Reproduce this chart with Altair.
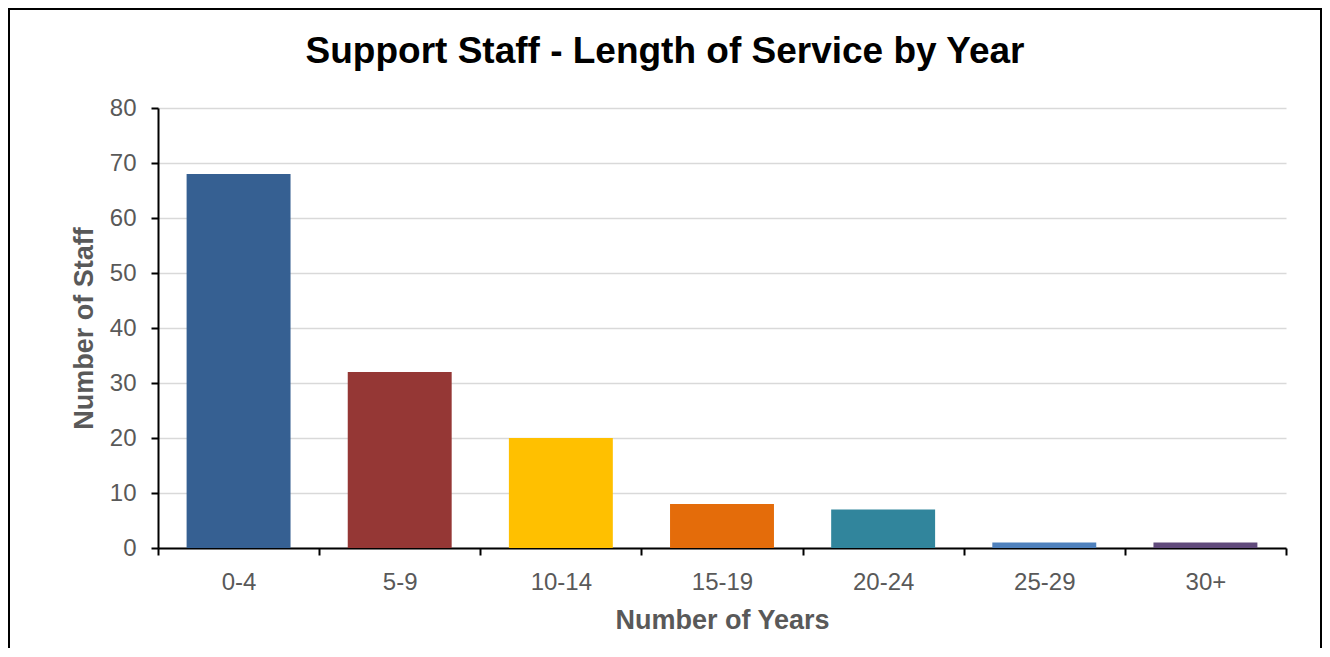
import altair as alt
import pandas as pd

categories = ["0-4", "5-9", "10-14", "15-19", "20-24", "25-29", "30+"]
staff = [68, 32, 20, 8, 7, 1, 1]
colors = ["#366092", "#953735", "#FFC000", "#E46C0A", "#31859C", "#4F81BD", "#604A7B"]
title_text = "Support Staff - Length of Service by Year"

df = pd.DataFrame({"years": categories, "staff": staff, "color": colors})

W, H = 1128, 440
FONT = "Liberation Sans"

bars = alt.Chart(df).mark_bar(width=alt.RelativeBandSize(0.645)).encode(
    x=alt.X("years:N", sort=categories, title="Number of Years",
            scale=alt.Scale(paddingInner=0, paddingOuter=0),
            axis=alt.Axis(tickBand="extent", labelAngle=0, labelFontSize=24,
                          labelColor="#595959", labelFont=FONT,
                          labelPadding=15, tickSize=7, tickColor="black",
                          tickWidth=2, domainColor="black", domainWidth=2,
                          titleFontSize=27, titleColor="#595959",
                          titleFont=FONT, titleFontWeight="bold",
                          titlePadding=13, grid=False)),
    y=alt.Y("staff:Q", title="Number of Staff",
            scale=alt.Scale(domain=[0, 80]),
            axis=alt.Axis(values=[0, 10, 20, 30, 40, 50, 60, 70, 80],
                          labelFontSize=24, labelColor="#595959",
                          labelFont=FONT, labelPadding=15,
                          tickSize=7, tickColor="black", tickWidth=2,
                          domainColor="black", domainWidth=2,
                          gridColor="#d9d9d9", gridWidth=1.5,
                          titleFontSize=27, titleColor="#595959",
                          titleFont=FONT, titleFontWeight="bold",
                          titlePadding=11)),
    color=alt.Color("color:N", scale=None, legend=None),
)

frame = alt.Chart(df).mark_rect(fill=None, stroke="black", strokeWidth=1.5).encode(
    x=alt.value(-149), x2=alt.value(1163), y=alt.value(-99), y2=alt.value(600)
)

title = alt.Chart(pd.DataFrame({"t": [title_text]})).mark_text(
    font=FONT, fontSize=37, fontWeight="bold", color="black",
    align="center", baseline="middle"
).encode(x=alt.value(507), y=alt.value(-56), text="t:N")

chart = alt.layer(frame, bars, title).properties(
    width=W, height=H,
    autosize=alt.AutoSizeParams(type="none"),
    padding={"left": 150, "top": 100, "right": 36, "bottom": 100},
).configure_view(stroke=None)

chart.save("out.html", embed_options={"renderer": "svg", "actions": False})
